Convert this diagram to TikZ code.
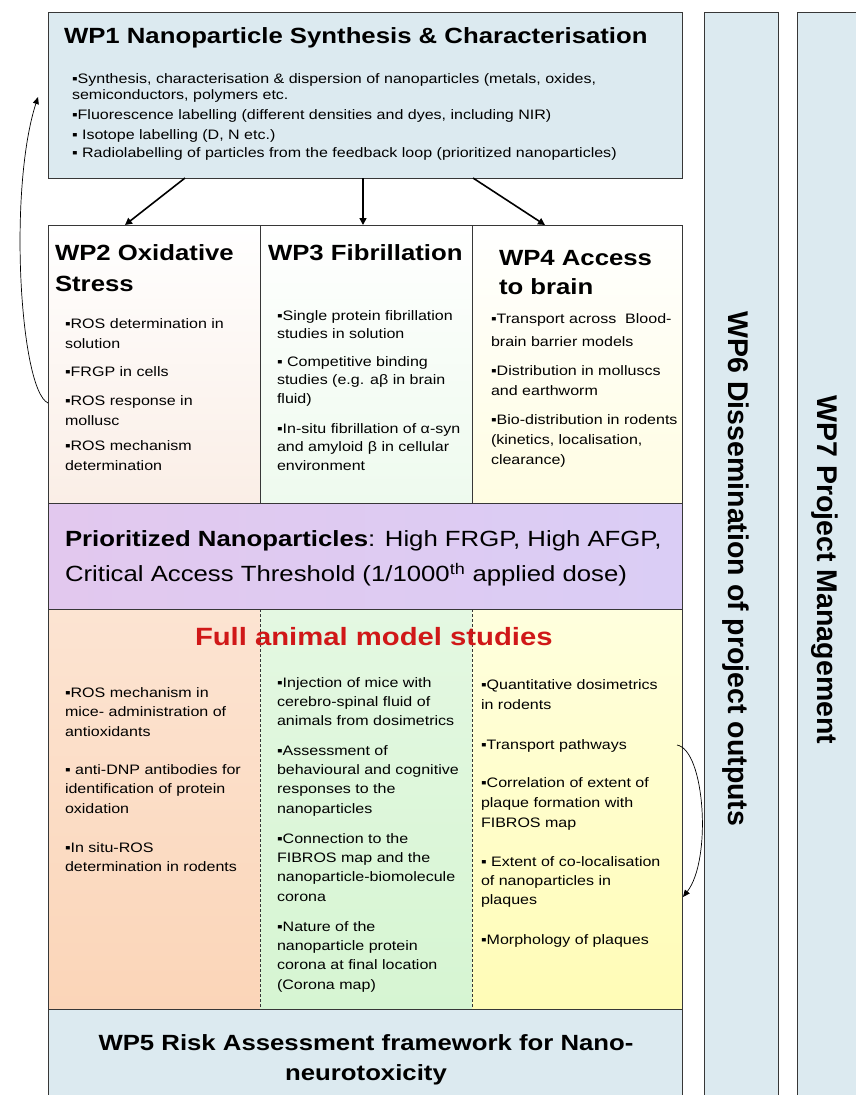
\documentclass[tikz,border=0pt]{standalone}
\usepackage{fontspec}
\setmainfont{Liberation Sans}[FakeStretch=1.17]
\newfontfamily\rotfont{Liberation Sans}
\usetikzlibrary{arrows.meta,calc,shadings}
\definecolor{wpblue}{RGB}{220,234,240}
\definecolor{edge}{RGB}{55,55,55}
\definecolor{fred}{RGB}{208,24,24}
\begin{document}
\begin{tikzpicture}[x=1pt,y=-1pt,
  box/.style={rectangle, inner sep=0pt, outer sep=0pt, draw=edge, line width=0.9pt},
  fillbox/.style={rectangle, inner sep=0pt, outer sep=0pt, draw=none},
  txt/.style={inner sep=0pt, outer sep=0pt, anchor=base west, align=left},
  body/.style={txt, font=\fontsize{13.7}{#1}\selectfont},
  body/.default=19.5,
  ttl/.style={txt, font=\bfseries\fontsize{22}{#1}\selectfont},
  ttl/.default=31,
  rot/.style={rotate=-90, anchor=base, inner sep=0pt, font=\rotfont\bfseries\fontsize{28.5}{30}\selectfont},
  arr/.style={draw=black, line width=1.6pt, -{Triangle[length=7pt,width=7pt]}},
  loop/.style={draw=black, line width=0.7pt, -{Triangle[length=7pt,width=6pt]}},
  divider/.style={draw=edge, line width=0.9pt, dash pattern=on 3pt off 2pt}
]
\useasboundingbox (0,0) rectangle (855,1095);

% side bars
\node[box, fill=wpblue, minimum width=74pt, minimum height=1088pt] (wp6) at (741,556) {};
\node[box, fill=wpblue, minimum width=65pt, minimum height=1088pt] (wp7) at (829.5,556) {};
\node[rot] (wp6t) at (728,569) {WP6 Dissemination of project outputs};
\node[rot] (wp7t) at (817,570) {WP7 Project Management};

% WP1
\node[box, fill=wpblue, minimum width=634pt, minimum height=166pt] (wp1) at (365,95) {};
\node[ttl] (wp1t) at (64,43) {WP1 Nanoparticle Synthesis \& Characterisation};
\node[body=16.5] (wp1a) at (72,99.5) {▪Synthesis, characterisation \& dispersion of nanoparticles (metals, oxides,\\semiconductors, polymers etc.};
\node[body] (wp1b) at (72,119) {▪Fluorescence labelling (different densities and dyes, including NIR)};
\node[body] (wp1c) at (72,139) {▪ Isotope labelling (D, N etc.)};
\node[body] (wp1d) at (72,157.5) {▪ Radiolabelling of particles from the feedback loop (prioritized nanoparticles)};

% WP2-4
\node[box, top color=white, bottom color={rgb,255:red,250;green,238;blue,230}, minimum width=212pt, minimum height=278pt] (wp2) at (154,364) {};
\node[box, top color=white, bottom color={rgb,255:red,238;green,250;blue,238}, minimum width=212pt, minimum height=278pt] (wp3) at (366,364) {};
\node[box, top color=white, bottom color={rgb,255:red,255;green,253;blue,226}, minimum width=210pt, minimum height=278pt] (wp4) at (577,364) {};

\node[ttl] (wp2t) at (55,291.7) {WP2 Oxidative\\Stress};
\node[ttl] (wp3t) at (268,260) {WP3 Fibrillation};
\node[ttl=29] (wp4t) at (499,294) {WP4 Access\\to brain};

\node[body=20] (wp2a) at (65,348) {▪ROS determination in\\solution};
\node[body] (wp2b) at (65,376.5) {▪FRGP in cells};
\node[body=20] (wp2c) at (65,425) {▪ROS response in\\mollusc};
\node[body=20] (wp2d) at (65,470) {▪ROS mechanism\\determination};

\node[body=18.5] (wp3a) at (277,338.5) {▪Single protein fibrillation\\studies in solution};
\node[body=18.5] (wp3b) at (277,403) {▪ Competitive binding\\studies (e.g. aβ in brain\\fluid)};
\node[body=18.5] (wp3c) at (277,470) {▪In-situ fibrillation of α-syn\\and amyloid β in cellular\\environment};

\node[body=23] (wp4a) at (491,346) {▪Transport across\ \ Blood-\\brain barrier models};
\node[body=20] (wp4b) at (491,395) {▪Distribution in molluscs\\and earthworm};
\node[body=20] (wp4c) at (491,464) {▪Bio-distribution in rodents\\(kinetics, localisation,\\clearance)};

% Prioritized
\node[box, left color={rgb,255:red,226;green,200;blue,238}, right color={rgb,255:red,218;green,205;blue,245}, minimum width=634pt, minimum height=106pt] (prio) at (365,556) {};
\node[txt, font=\fontsize{22}{35}\selectfont] (priot) at (65,581.7) {\textbf{Prioritized Nanoparticles}: High FRGP, High AFGP,\\Critical Access Threshold (1/1000\textsuperscript{th} applied dose)};

% Full animal model studies
\node[fillbox, top color={rgb,255:red,252;green,228;blue,210}, bottom color={rgb,255:red,251;green,213;blue,184}, minimum width=212pt, minimum height=400pt] (full1) at (154,809) {};
\node[fillbox, top color={rgb,255:red,228;green,248;blue,226}, bottom color={rgb,255:red,214;green,245;blue,210}, minimum width=212pt, minimum height=400pt] (full2) at (366,809) {};
\node[fillbox, top color={rgb,255:red,255;green,255;blue,222}, bottom color={rgb,255:red,255;green,252;blue,182}, minimum width=210pt, minimum height=400pt] (full3) at (577,809) {};
\node[box, minimum width=634pt, minimum height=400pt] (full) at (365,809) {};
\draw[divider] (full1.north east) -- (full1.south east);
\draw[divider] (full2.north east) -- (full2.south east);

\node[txt, font=\bfseries\fontsize{25}{30}\selectfont, text=fred] (fullt) at (195,645) {Full animal model studies};

\node[body] (f1a) at (65,736) {▪ROS mechanism in\\mice- administration of\\antioxidants};
\node[body] (f1b) at (65,813) {▪ anti-DNP antibodies for\\identification of protein\\oxidation};
\node[body] (f1c) at (65,871.5) {▪In situ-ROS\\determination in rodents};

\node[body=19.4] (f2a) at (277,725.8) {▪Injection of mice with\\cerebro-spinal fluid of\\animals from dosimetrics};
\node[body=19.4] (f2b) at (277,813.2) {▪Assessment of\\behavioural and cognitive\\responses to the\\nanoparticles};
\node[body=19.4] (f2c) at (277,901.2) {▪Connection to the\\FIBROS map and the\\nanoparticle-biomolecule\\corona};
\node[body=19.4] (f2d) at (277,989.2) {▪Nature of the\\nanoparticle protein\\corona at final location\\(Corona map)};

\node[body=20] (f3a) at (481,709) {▪Quantitative dosimetrics\\in rodents};
\node[body] (f3b) at (481,749) {▪Transport pathways};
\node[body=20] (f3c) at (481,827) {▪Correlation of extent of\\plaque formation with\\FIBROS map};
\node[body=19] (f3d) at (481,904) {▪ Extent of co-localisation\\of nanoparticles in\\plaques};
\node[body] (f3e) at (481,944) {▪Morphology of plaques};

% WP5
\node[box, fill=wpblue, minimum width=634pt, minimum height=91pt] (wp5) at (365,1054.5) {};
\node[inner sep=0pt, anchor=base, align=center, font=\bfseries\fontsize{22}{30}\selectfont] (wp5t) at (366,1080) {WP5 Risk Assessment framework for Nano-\\neurotoxicity};

% arrows
\draw[arr] ([xshift=137pt]wp1.south west) -- ([xshift=77pt]wp2.north west);
\draw[arr] ([xshift=315pt]wp1.south west) -- ([xshift=103pt]wp3.north west);
\draw[arr] ([xshift=425pt]wp1.south west) -- ([xshift=73pt]wp4.north west);
\draw[loop] ([yshift=-39pt]wp2.west) .. controls (20,390) and (8,190) .. ([xshift=-10pt,yshift=-2pt]wp1.west);
\draw[loop] ([xshift=-5pt,yshift=64pt]full3.east) .. controls (705,750) and (712,860) .. ([xshift=1pt,yshift=-88pt]full3.east);
\end{tikzpicture}
\end{document}
